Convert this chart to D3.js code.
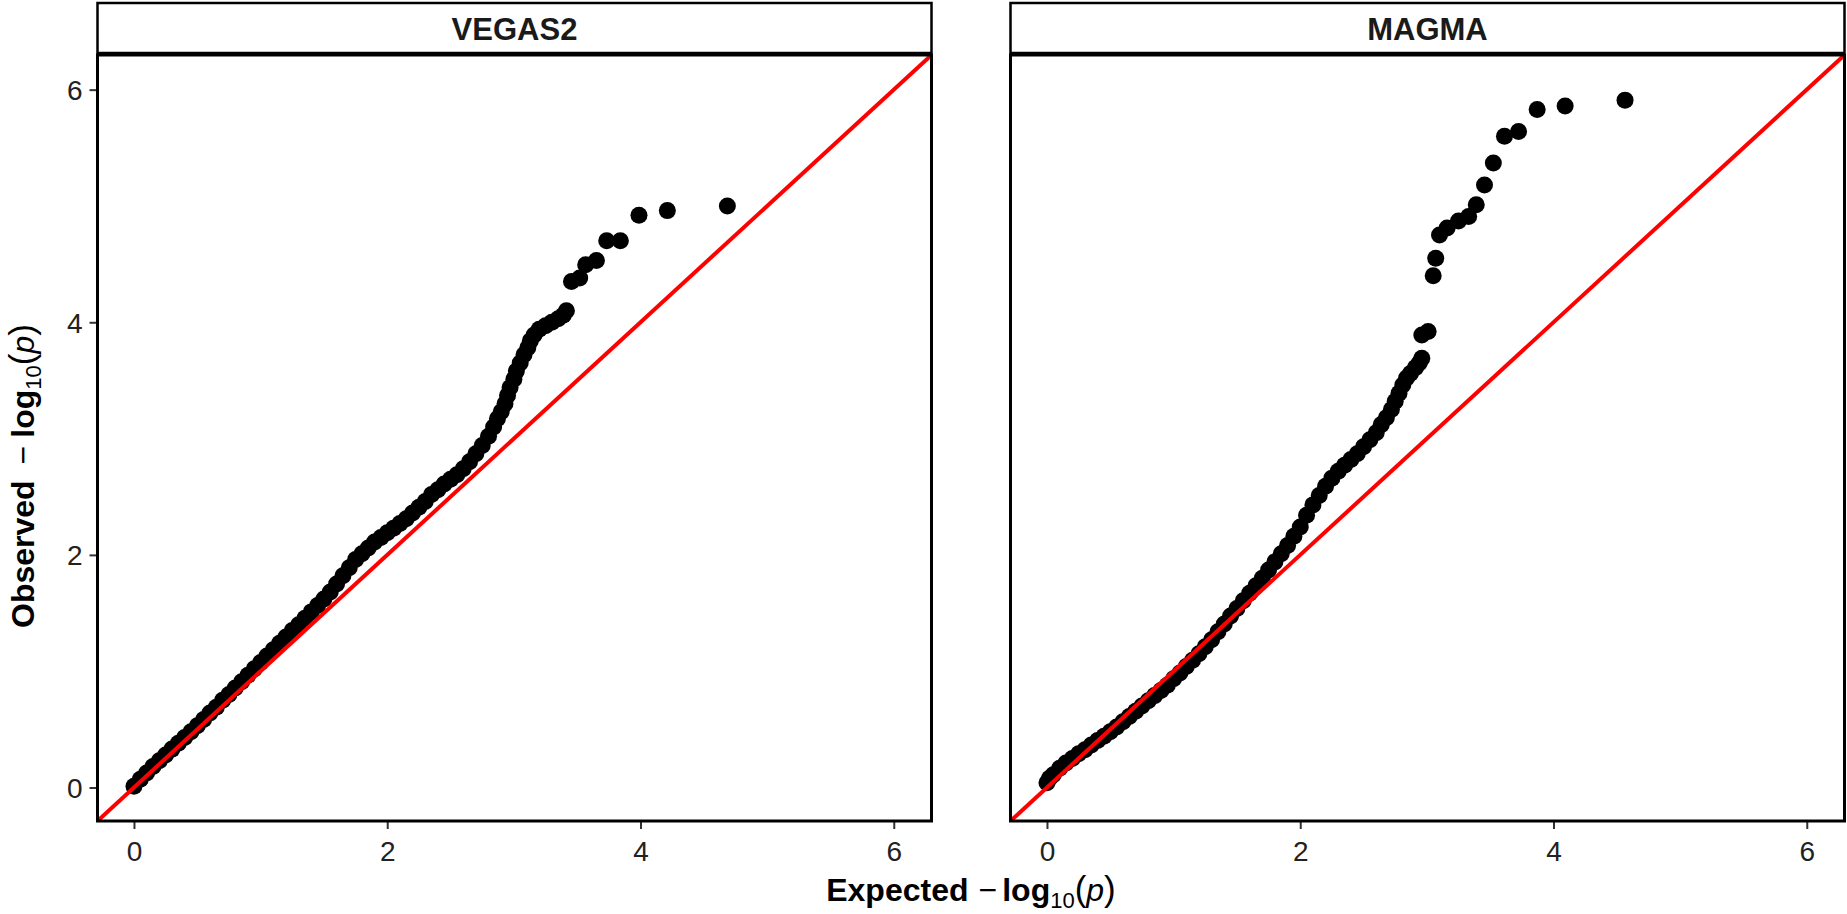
<!DOCTYPE html>
<html>
<head>
<meta charset="utf-8">
<script src="https://cdn.jsdelivr.net/npm/d3@7"></script>
<style>
  body { margin: 0; background: #fff; }
  text { font-family: "Liberation Sans", Arial, sans-serif; }
</style>
</head>
<body>
<svg id="chart"></svg>
<script>
// facet names
var panels = ["VEGAS2", "MAGMA"];

// VEGAS2: expected vs observed -log10(p)
var vegasExpected = [0.00, 0.05, 0.10, 0.15, 0.20, 0.25, 0.30, 0.35, 0.40, 0.45, 0.50, 0.55, 0.60, 0.65, 0.70,
  0.75, 0.80, 0.85, 0.90, 0.95, 1.00, 1.05, 1.10, 1.15, 1.20, 1.25, 1.30, 1.35, 1.40, 1.45, 1.50, 1.55, 1.60,
  1.65, 1.70, 1.75, 1.80, 1.85, 1.90, 1.95, 2.00, 2.05, 2.10, 2.15, 2.20, 2.25, 2.30, 2.35, 2.40, 2.45, 2.50,
  2.55, 2.60, 2.65, 2.70, 2.75, 2.80, 2.84, 2.87, 2.90, 2.93, 2.95, 2.97, 3.00, 3.02, 3.05, 3.08, 3.11, 3.13,
  3.16, 3.20, 3.25, 3.30, 3.35, 3.39, 3.415, 3.455, 3.52, 3.567, 3.652, 3.733, 3.841, 3.988, 4.212, 4.686];
var vegasObserved = [0.01, 0.07, 0.125, 0.18, 0.23, 0.28, 0.33, 0.38, 0.43, 0.48, 0.53, 0.585, 0.64, 0.69, 0.75,
  0.80, 0.855, 0.91, 0.965, 1.02, 1.075, 1.13, 1.185, 1.24, 1.295, 1.35, 1.40, 1.455, 1.51, 1.565, 1.62, 1.68, 1.75,
  1.82, 1.89, 1.96, 2.01, 2.06, 2.11, 2.15, 2.19, 2.23, 2.27, 2.31, 2.36, 2.41, 2.46, 2.52, 2.56, 2.61, 2.65,
  2.69, 2.74, 2.80, 2.87, 2.94, 3.02, 3.10, 3.17, 3.23, 3.30, 3.37, 3.44, 3.51, 3.58, 3.65, 3.72, 3.78, 3.84,
  3.89, 3.94, 3.97, 4.00, 4.03, 4.06, 4.10, 4.35, 4.38, 4.495, 4.532, 4.70, 4.70, 4.92, 4.96, 5.00];

// MAGMA
var magmaExpected = [0.00, 0.02, 0.05, 0.10, 0.15, 0.20, 0.25, 0.30, 0.35, 0.40, 0.45, 0.50, 0.55, 0.60, 0.65,
  0.70, 0.75, 0.80, 0.85, 0.90, 0.95, 1.00, 1.05, 1.10, 1.15, 1.20, 1.25, 1.30, 1.35, 1.40, 1.45, 1.50, 1.55,
  1.60, 1.65, 1.70, 1.75, 1.80, 1.85, 1.90, 1.95, 2.00, 2.05, 2.10, 2.15, 2.20, 2.25, 2.30, 2.35, 2.40, 2.45,
  2.50, 2.55, 2.60, 2.64, 2.68, 2.72, 2.75, 2.78, 2.81, 2.84, 2.87, 2.91, 2.94, 2.96, 2.96, 3.01, 3.05, 3.07,
  3.10, 3.16, 3.25, 3.33, 3.39, 3.455, 3.525, 3.613, 3.724, 3.871, 4.092, 4.565];
var magmaObserved = [0.04, 0.08, 0.11, 0.165, 0.21, 0.25, 0.29, 0.325, 0.365, 0.405, 0.44, 0.48, 0.52, 0.565, 0.61,
  0.655, 0.70, 0.745, 0.79, 0.835, 0.88, 0.935, 0.985, 1.04, 1.095, 1.15, 1.21, 1.27, 1.34, 1.405, 1.475, 1.54, 1.605,
  1.67, 1.735, 1.80, 1.87, 1.94, 2.01, 2.08, 2.16, 2.24, 2.34, 2.43, 2.51, 2.59, 2.66, 2.72, 2.77, 2.82, 2.87,
  2.93, 2.99, 3.05, 3.12, 3.18, 3.25, 3.32, 3.39, 3.46, 3.52, 3.56, 3.61, 3.65, 3.69, 3.89, 3.92, 4.40, 4.55,
  4.75, 4.81, 4.87, 4.91, 5.01, 5.18, 5.37, 5.60, 5.64, 5.83, 5.86, 5.91];

var tickValues = [0, 2, 4, 6];
var axisDomain = [-0.288, 6.298];

var width = 1847, height = 914;
var panelTop = 55, panelBottom = 821, panelWidth = 834;
var panelLeft = [97.5, 1010.5];
var stripTop = 3;

var svg = d3.select("#chart")
  .attr("width", width)
  .attr("height", height);

// same scales for both facets
var xScale = d3.scaleLinear().domain(axisDomain).range([0, panelWidth]);
var yScale = d3.scaleLinear().domain(axisDomain).range([panelBottom - panelTop, 0]);

var series = [
  { name: panels[0], ex: vegasExpected, obs: vegasObserved },
  { name: panels[1], ex: magmaExpected, obs: magmaObserved }
];

series.forEach(function(s, i) {
  var g = svg.append("g")
    .attr("transform", "translate(" + panelLeft[i] + "," + panelTop + ")");

  g.append("clipPath").attr("id", "clip" + i)
    .append("rect")
    .attr("width", panelWidth)
    .attr("height", panelBottom - panelTop);

  var pts = s.ex.map(function(d, j) { return { x: d, y: s.obs[j] }; });

  var plot = g.append("g").attr("clip-path", "url(#clip" + i + ")");

  plot.selectAll("circle")
    .data(pts)
    .enter().append("circle")
    .attr("cx", function(d) { return xScale(d.x); })
    .attr("cy", function(d) { return yScale(d.y); })
    .attr("r", 8.5)
    .attr("fill", "#000");

  // identity line
  plot.append("line")
    .attr("x1", xScale(axisDomain[0]))
    .attr("y1", yScale(axisDomain[0]))
    .attr("x2", xScale(axisDomain[1]))
    .attr("y2", yScale(axisDomain[1]))
    .attr("stroke", "#ff0000")
    .attr("stroke-width", 4);

  // x axis
  var xAxis = g.append("g")
    .attr("transform", "translate(0," + (panelBottom - panelTop) + ")")
    .call(d3.axisBottom(xScale).tickValues(tickValues).tickFormat(d3.format("d"))
      .tickSize(8).tickPadding(12));
  xAxis.select(".domain").remove();

  if (i === 0) {
    var yAxis = g.append("g")
      .call(d3.axisLeft(yScale).tickValues(tickValues).tickFormat(d3.format("d"))
        .tickSize(8).tickPadding(7));
    yAxis.select(".domain").remove();
    yAxis.selectAll("text").attr("dy", "0.36em");
  }

  g.selectAll(".tick line").attr("stroke", "#333").attr("stroke-width", 2);
  g.selectAll(".tick text")
    .attr("fill", "#222")
    .style("font-size", "28px")
    .style("font-family", "'Liberation Sans', Arial, sans-serif");

  // panel border
  g.append("rect")
    .attr("width", panelWidth)
    .attr("height", panelBottom - panelTop)
    .attr("fill", "none")
    .attr("stroke", "#000")
    .attr("stroke-width", 3);

  // strip
  svg.append("rect")
    .attr("x", panelLeft[i])
    .attr("y", stripTop)
    .attr("width", panelWidth)
    .attr("height", panelTop - stripTop - 2)
    .attr("fill", "#fff")
    .attr("stroke", "#000")
    .attr("stroke-width", 2.5);

  svg.append("text")
    .attr("x", panelLeft[i] + panelWidth / 2)
    .attr("y", (stripTop + panelTop) / 2)
    .attr("dy", "0.36em")
    .attr("text-anchor", "middle")
    .style("font-size", "31px")
    .style("font-weight", "bold")
    .attr("fill", "#1a1a1a")
    .text(s.name);
});

// axis titles: plotmath style  -log10(p)
function mathTitle(t, word, gap) {
  t.append("tspan").style("font-weight", "bold").text(word);
  t.append("tspan").attr("dx", gap).text("\u2212");
  t.append("tspan").attr("dx", gap / 2).style("font-weight", "bold").text("log");
  t.append("tspan").style("font-size", "22px").attr("dy", 7).text("10");
  t.append("tspan").style("font-size", "35px").attr("dy", -7).text("(");
  t.append("tspan").style("font-style", "italic").text("p");
  t.append("tspan").style("font-size", "35px").text(")");
}

var xTitle = svg.append("text")
  .attr("x", (panelLeft[0] + panelLeft[1] + panelWidth) / 2)
  .attr("y", 901)
  .attr("text-anchor", "middle")
  .style("font-size", "32px")
  .attr("fill", "#000");
mathTitle(xTitle, "Expected", 10);

var yTitle = svg.append("text")
  .attr("transform", "translate(34,628) rotate(-90)")
  .attr("text-anchor", "start")
  .style("font-size", "32px")
  .attr("fill", "#000");
mathTitle(yTitle, "Observed", 16);
</script>
</body>
</html>
